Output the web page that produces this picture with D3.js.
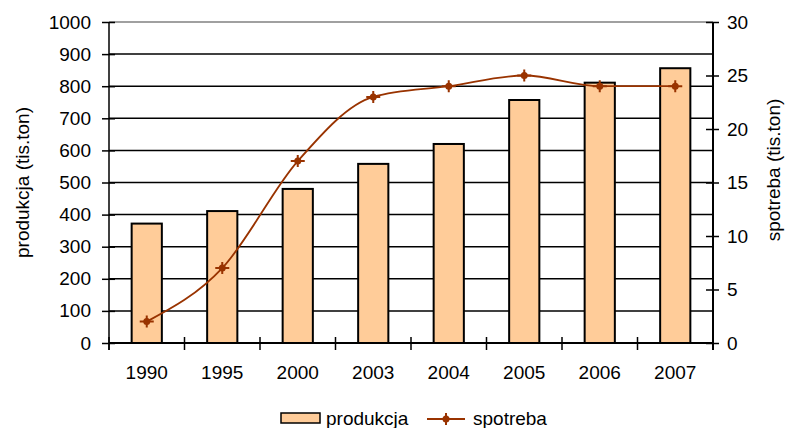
<!DOCTYPE html>
<html>
<head>
<meta charset="utf-8">
<script src="https://cdn.jsdelivr.net/npm/d3@7/dist/d3.min.js"></script>
<style>
  html, body { margin: 0; padding: 0; background: #fff; }
  svg { display: block; }
  text { font-family: "Liberation Sans", Arial, sans-serif; fill: #000; }
</style>
</head>
<body>
<svg id="chart" width="785" height="428"></svg>
<script>
// Production (bars, left axis) and consumption (line, right axis) by year
const years = ["1990", "1995", "2000", "2003", "2004", "2005", "2006", "2007"];
const produkcja = [372, 411, 480, 558, 620, 757, 811, 856];
const spotreba = [2, 7, 17, 23, 24, 25, 24, 24];
const leftTicks = [0, 100, 200, 300, 400, 500, 600, 700, 800, 900, 1000];
const rightTicks = [0, 5, 10, 15, 20, 25, 30];

const barFill = "#FFCC99";
const lineColor = "#993300";
const fontSize = 19;

const svg = d3.select("#chart");
const plot = { left: 109, right: 713, top: 22, bottom: 343 };

const x = d3.scaleBand()
  .domain(years)
  .range([plot.left, plot.right])
  .paddingInner(0.6)
  .paddingOuter(0.3);
const yL = d3.scaleLinear().domain([0, 1000]).range([plot.bottom, plot.top]);
const yR = d3.scaleLinear().domain([0, 30]).range([plot.bottom, plot.top]);

// Horizontal gridlines
svg.append("g")
  .selectAll("line")
  .data(leftTicks.slice(1))
  .join("line")
  .attr("x1", plot.left).attr("x2", plot.right)
  .attr("y1", d => yL(d)).attr("y2", d => yL(d))
  .attr("stroke", d => d === 1000 ? "#808080" : "#000")
  .attr("stroke-width", 1.5);

// Bars
svg.append("g")
  .selectAll("rect")
  .data(years.map((y, i) => ({ y, v: produkcja[i] })))
  .join("rect")
  .attr("x", d => x(d.y))
  .attr("width", x.bandwidth())
  .attr("y", d => yL(d.v))
  .attr("height", d => yL(0) - yL(d.v))
  .attr("fill", barFill)
  .attr("stroke", "#000")
  .attr("stroke-width", 2);

// Left axis
const axisL = svg.append("g").attr("transform", `translate(${plot.left},0)`)
  .call(d3.axisLeft(yL).tickValues(leftTicks).tickSize(7).tickPadding(11).tickFormat(d3.format("d")));
axisL.selectAll(".tick line").attr("x2", 6).attr("x1", -7).attr("stroke-width", 1.5);
axisL.select(".domain").remove();
svg.append("line")
  .attr("x1", plot.left).attr("x2", plot.left)
  .attr("y1", plot.top).attr("y2", plot.bottom + 7)
  .attr("stroke", "#000").attr("stroke-width", 1.5);

// Right axis
const axisR = svg.append("g").attr("transform", `translate(${plot.right},0)`)
  .call(d3.axisRight(yR).tickValues(rightTicks).tickSize(7).tickPadding(7).tickFormat(d3.format("d")));
axisR.selectAll(".tick line").attr("x1", -7).attr("x2", 6).attr("stroke-width", 1.5);
axisR.select(".domain").remove();
svg.append("line")
  .attr("x1", plot.right).attr("x2", plot.right)
  .attr("y1", plot.top).attr("y2", plot.bottom + 7)
  .attr("stroke", "#000").attr("stroke-width", 2);

// Category axis with ticks between categories
svg.append("line")
  .attr("x1", plot.left).attr("x2", plot.right)
  .attr("y1", plot.bottom).attr("y2", plot.bottom)
  .attr("stroke", "#000").attr("stroke-width", 2);
const step = x.step();
const boundaries = d3.range(years.length + 1).map(i => plot.left + i * step);
svg.append("g").selectAll("line")
  .data(boundaries)
  .join("line")
  .attr("x1", d => d).attr("x2", d => d)
  .attr("y1", plot.bottom - 6).attr("y2", plot.bottom + 7)
  .attr("stroke", "#000").attr("stroke-width", 1.5);
svg.append("g").selectAll("text")
  .data(years)
  .join("text")
  .attr("x", d => x(d) + x.bandwidth() / 2)
  .attr("y", 379)
  .attr("text-anchor", "middle")
  .attr("font-size", fontSize)
  .text(d => d);

svg.selectAll(".tick text").attr("font-size", fontSize).attr("font-family", "Liberation Sans, Arial, sans-serif");

// Axis titles
svg.append("text")
  .attr("transform", `translate(29,${(plot.top + plot.bottom) / 2}) rotate(-90)`)
  .attr("text-anchor", "middle")
  .attr("font-size", fontSize)
  .text("produkcja (tis.ton)");
svg.append("text")
  .attr("transform", `translate(780,170) rotate(-90)`)
  .attr("text-anchor", "middle")
  .attr("font-size", fontSize)
  .text("spotreba (tis.ton)");

// Consumption line (smoothed)
const cx = d => x(d) + x.bandwidth() / 2;
const pts = years.map((y, i) => [cx(y), yR(spotreba[i])]);
svg.append("path")
  .attr("d", d3.line().curve(d3.curveMonotoneX)(pts))
  .attr("fill", "none")
  .attr("stroke", lineColor)
  .attr("stroke-width", 1.8);

function marker(g, px, py) {
  g.append("path")
    .attr("d", `M${px - 7},${py}H${px + 7}M${px},${py - 6}V${py + 6}`)
    .attr("stroke", lineColor).attr("stroke-width", 2);
  g.append("circle").attr("cx", px).attr("cy", py).attr("r", 3.5).attr("fill", lineColor);
}
const markers = svg.append("g");
pts.forEach(p => marker(markers, p[0], p[1]));

// Legend
const lg = svg.append("g");
lg.append("rect")
  .attr("x", 281).attr("y", 413).attr("width", 39).attr("height", 10)
  .attr("fill", barFill).attr("stroke", "#000").attr("stroke-width", 1.5);
lg.append("text").attr("x", 326).attr("y", 425).attr("font-size", fontSize).text("produkcja");
lg.append("line")
  .attr("x1", 427).attr("x2", 465).attr("y1", 419).attr("y2", 419)
  .attr("stroke", lineColor).attr("stroke-width", 2);
marker(lg, 446, 419);
lg.append("text").attr("x", 473).attr("y", 425).attr("font-size", fontSize).text("spotreba");
</script>
</body>
</html>
